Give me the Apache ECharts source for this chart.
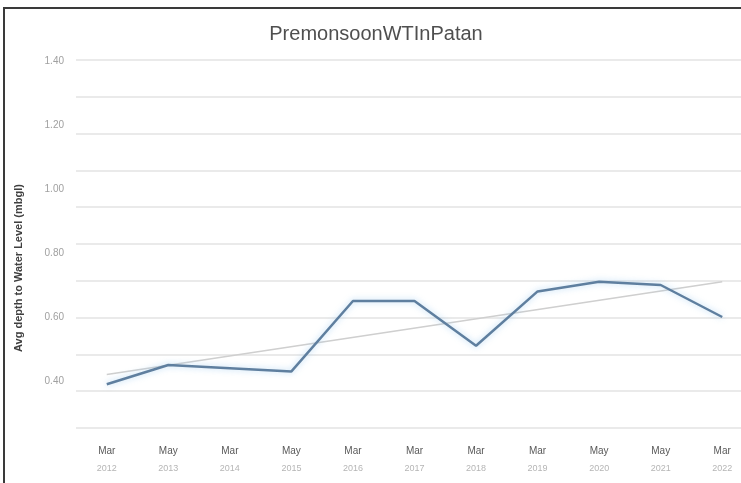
<!DOCTYPE html>
<html>
<head>
<meta charset="utf-8">
<script src="https://cdn.jsdelivr.net/npm/echarts@6/dist/echarts.min.js"></script>
<style>
  html, body { margin: 0; padding: 0; background: #ffffff; overflow: hidden; width: 741px; height: 483px; }
  /* the plot area runs past the right edge of the frame */
  #chart { width: 753px; height: 483px; }
</style>
</head>
<body>
<div id="chart"></div>
<script>
// Pre-monsoon average depth to water table, Patan
const months = ['Mar', 'May', 'Mar', 'May', 'Mar', 'Mar', 'Mar', 'Mar', 'May', 'May', 'Mar'];
const years = ['2012', '2013', '2014', '2015', '2016', '2017', '2018', '2019', '2020', '2021', '2022'];
const depth = [0.39, 0.45, 0.44, 0.43, 0.65, 0.65, 0.51, 0.68, 0.71, 0.70, 0.60];
// linear trend line, value at first and last sample
const trendEnds = [0.42, 0.71];
const yTicks = [0.2, 0.4, 0.6, 0.8, 1.0, 1.2, 1.4];

const categories = months.map((m, i) => m + '\n' + years[i]);
const trend = depth.map((_, i) => (i === 0 ? trendEnds[0] : i === depth.length - 1 ? trendEnds[1] : null));

const chart = echarts.init(document.getElementById('chart'));
chart.setOption({
  animation: false,
  backgroundColor: '#ffffff',
  title: {
    text: 'PremonsoonWTInPatan',
    left: 371,
    textAlign: 'center',
    top: 19,
    textStyle: { fontFamily: 'Liberation Sans', fontSize: 20, fontWeight: 'normal', color: '#4f4f4f' }
  },
  grid: [
    { left: 76, right: 0, top: 61, bottom: 38 },
    { left: 76, right: 0, top: 60, height: 368 }
  ],
  xAxis: [
    {
      type: 'category', gridIndex: 0, data: categories, boundaryGap: true,
      axisLine: { show: false }, axisTick: { show: false },
      axisLabel: {
        margin: -2, interval: 0, lineHeight: 17,
        formatter: (v) => { const p = v.split('\n'); return '{m|' + p[0] + '}\n{y|' + p[1] + '}'; },
        rich: {
          m: { fontFamily: 'Liberation Sans', fontSize: 10, color: '#595959' },
          y: { fontFamily: 'Liberation Sans', fontSize: 9, color: '#b5b5b5' }
        }
      }
    },
    { type: 'category', gridIndex: 1, show: false, data: categories }
  ],
  yAxis: [
    {
      type: 'value', gridIndex: 0, min: yTicks[0], max: yTicks[yTicks.length - 1], interval: 0.2,
      splitLine: { show: false }, axisLine: { show: false }, axisTick: { show: false },
      axisLabel: {
        showMinLabel: false, margin: 12,
        formatter: (v) => v.toFixed(2),
        fontFamily: 'Liberation Sans', fontSize: 10, color: '#a0a0a0'
      }
    },
    {
      type: 'value', gridIndex: 1, min: 0, max: 10, interval: 1,
      axisLabel: { show: false }, axisLine: { show: false }, axisTick: { show: false },
      splitLine: { lineStyle: { color: '#e3e3e3', width: 1.5 } }
    }
  ],
  series: [
    {
      type: 'line', xAxisIndex: 0, yAxisIndex: 0, data: trend, connectNulls: true,
      symbol: 'none', z: 2,
      lineStyle: { color: '#cfcfcf', width: 1.5 }
    },
    {
      type: 'line', xAxisIndex: 0, yAxisIndex: 0, data: depth,
      symbol: 'none', z: 3,
      lineStyle: {
        color: '#5f7f9f', width: 2.5,
        shadowColor: 'rgba(150, 200, 240, 0.7)', shadowBlur: 6
      }
    }
  ],
  graphic: [
    {
      type: 'polyline', z: 10,
      shape: { points: [[4, 483], [4, 8], [753, 8]] },
      style: { stroke: '#3a3a3a', lineWidth: 2, fill: null }
    },
    {
      type: 'text', x: 19, y: 268, rotation: Math.PI / 2,
      style: {
        text: 'Avg depth to Water Level (mbgl)',
        font: 'bold 11px "Liberation Sans Narrow", "Liberation Sans"',
        fill: '#404040', align: 'center', verticalAlign: 'middle'
      }
    }
  ]
});
</script>
</body>
</html>
